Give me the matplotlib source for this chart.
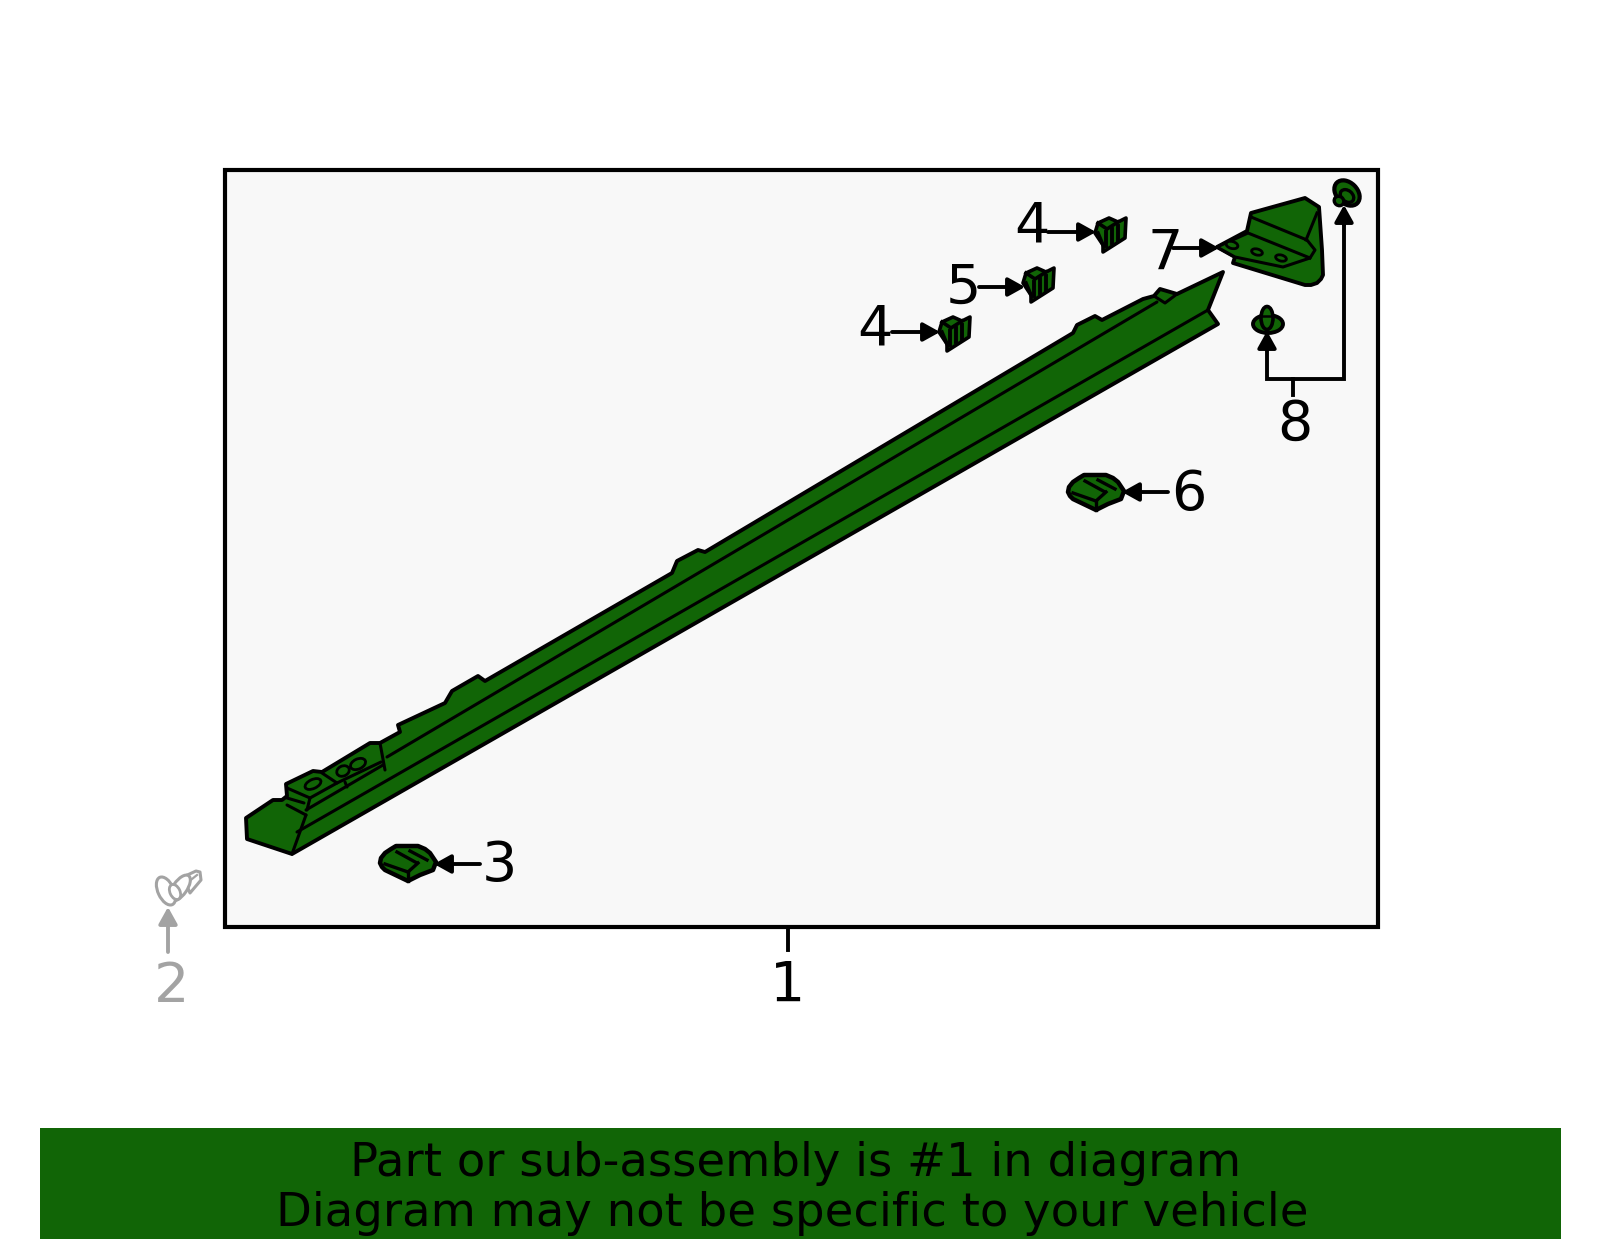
import matplotlib
matplotlib.use("Agg")
import matplotlib.pyplot as plt
from matplotlib.patches import Polygon, Ellipse, Rectangle, FancyArrowPatch

GREEN = "#116506"
PANEL = "#f8f8f8"
GREY = "#a3a3a3"

# labels: text, x, y (pixels of the picture)
label_text = ["1", "3", "4", "4", "5", "6", "7", "8"]
label_x = [788, 499, 875, 1032, 963, 1189, 1165, 1295]
label_y = [986, 866, 329, 226, 289, 495, 254, 425]

# arrows: x0, y0, x1, y1
arrow_x0 = [480, 892, 1048, 979, 1168, 1173]
arrow_y0 = [864, 332, 232, 287, 492, 248]
arrow_x1 = [434, 940, 1096, 1025, 1122, 1219]
arrow_y1 = [864, 332, 232, 287, 492, 248]

banner_lines = ["Part or sub-assembly is #1 in diagram",
                "Diagram may not be specific to your vehicle"]

sill_x = [292, 247, 246, 273, 282, 287, 286, 313, 322, 370, 380, 400, 398, 445, 452, 478, 485,
          672, 677, 698, 705, 1073, 1077, 1095, 1102, 1143, 1154, 1160, 1177, 1223, 1208, 1218]
sill_y = [854, 839, 818, 800, 800, 796, 784, 771, 772, 743, 743, 732, 725, 703, 691, 676, 681,
          573, 561, 550, 552, 333, 325, 316, 320, 299, 296, 289, 294, 272, 310, 324]
sill_lines = [
    ([306, 292], [815, 854]),
    ([306, 287], [815, 805]),
    ([387, 1157], [757, 302]),
    ([297, 1208], [832, 310]),
    ([306, 383], [810, 765]),
    ([380, 385], [743, 770]),
    ([287, 310, 307], [788, 798, 810]),
    ([310, 337, 322], [798, 783, 773]),
    ([337, 381], [783, 762]),
    ([345, 347], [782, 787]),
    ([287, 304], [798, 803]),
    ([1154, 1165, 1177], [296, 303, 294]),
]
sill_holes = [(313, 784, 17, 9), (343, 771, 13, 10), (358, 764, 16, 10)]

# bracket 7
bracket_x = [1217, 1247, 1251, 1305, 1319, 1322, 1323, 1321, 1317, 1311, 1305, 1233, 1235]
bracket_y = [247, 231, 213, 198, 207, 250, 275, 279, 283, 285, 285, 263, 257]
flange_x = [1217, 1248, 1310, 1283, 1235]
flange_y = [247, 233, 258, 267, 257]
bracket_lines = [
    ([1251, 1307, 1315, 1310], [217, 240, 250, 258]),
    ([1317, 1306], [213, 240]),
]
bracket_holes = [(1232, 245, 12, 7), (1257, 252, 11, 6), (1281, 258, 11, 6)]

# clips 4, 4, 5 share a shape, clips 3 and 6 share a shape
clip_x = [939, 942, 953, 962, 970, 969, 947, 947]
clip_y = [332, 322, 317, 321, 317, 337, 351, 344]
clip_shift_x = [0, 156, 84]
clip_shift_y = [0, -99, -49]
clip_bars_x = [950, 956, 962]

wedge_x = [380, 381, 385, 391, 396, 418, 425, 430, 436, 433, 420, 408, 385, 382]
wedge_y = [863, 858, 853, 849, 846, 846, 849, 853, 862, 870, 875, 881, 870, 867]
wedge_shift_x = [0, 688]
wedge_shift_y = [0, -371]
wedge_lines = [
    ([397, 417], [852, 863]),
    ([410, 427], [851, 860]),
    ([385, 408], [864, 872]),
    ([408, 408], [872, 881]),
    ([408, 418], [872, 863]),
]

LW = 2.8
THIN = 2.2

fig = plt.figure(figsize=(16, 12.49), dpi=100)
ax = fig.add_axes([0, 0, 1, 1])
ax.set_xlim(0, 1600)
ax.set_ylim(1249, 0)
ax.axis("off")

ax.add_patch(Rectangle((225, 170), 1153, 757, fc=PANEL, ec="black", lw=3.0, zorder=1))
ax.plot([788, 788], [927, 950], color="black", lw=LW, zorder=1)


def shape(xs, ys, lw=LW, fc=GREEN, ec="black"):
    ax.add_patch(Polygon(list(zip(xs, ys)), closed=True, fc=fc, ec=ec, lw=lw, joinstyle="round", zorder=3))


def hole(x, y, w, h, angle=-25, fc=GREEN, ec="black", lw=2.0):
    ax.add_patch(Ellipse((x, y), w, h, angle=angle, fc=fc, ec=ec, lw=lw, zorder=4))


def arrow(x0, y0, x1, y1, color="black"):
    ax.add_patch(FancyArrowPatch((x0, y0), (x1, y1), arrowstyle="-|>,head_length=0.36,head_width=0.2",
                                 mutation_scale=28, lw=LW, color=color, shrinkA=0, shrinkB=0, zorder=5))


# sill
shape(sill_x, sill_y)
for xs, ys in sill_lines:
    ax.plot(xs, ys, color="black", lw=THIN, zorder=4, solid_capstyle="round")
for x, y, w, h in sill_holes:
    hole(x, y, w, h)

# bracket 7
shape(bracket_x, bracket_y)
shape(flange_x, flange_y, lw=THIN)
for xs, ys in bracket_lines:
    ax.plot(xs, ys, color="black", lw=THIN, zorder=4)
for x, y, w, h in bracket_holes:
    hole(x, y, w, h, angle=15)

# small clips
for dx, dy in zip(clip_shift_x, clip_shift_y):
    shape([x + dx for x in clip_x], [y + dy for y in clip_y], lw=2.6)
    ax.plot([942 + dx, 951 + dx, 962 + dx], [322 + dy, 328 + dy, 321 + dy], color="black", lw=2.6, zorder=4)
    ax.plot([942 + dx, 947 + dx], [332 + dy, 344 + dy], color="black", lw=2.6, zorder=4)
    for bx in clip_bars_x:
        ax.plot([bx + dx, bx + dx], [331 + dy - (bx - 949) * 0.5, 345 + dy - (bx - 949) * 0.5],
                color="black", lw=2.8, zorder=4)

# wedge clips
for dx, dy in zip(wedge_shift_x, wedge_shift_y):
    shape([x + dx for x in wedge_x], [y + dy for y in wedge_y], lw=3.2)
    for xs, ys in wedge_lines:
        ax.plot([x + dx for x in xs], [y + dy for y in ys], color="black", lw=2.4, zorder=4)

# studs 8
hole(1268, 324, 30, 18, angle=0, lw=2.8)
hole(1267, 318, 12, 23, angle=0, lw=2.6)
ax.plot([1262, 1272], [316, 316], color="black", lw=1.8, zorder=5)
hole(1347, 193, 29, 21, angle=45, lw=3.0)
hole(1347, 196, 15, 11, angle=40, lw=2.4)
hole(1339, 201, 10, 9, angle=40, lw=2.4)

# leader 8
ax.plot([1267, 1267, 1344, 1344], [340, 379, 379, 215], color="black", lw=LW, zorder=5, solid_joinstyle="miter")
ax.plot([1293, 1293], [379, 395], color="black", lw=LW, zorder=5)
arrow(1267, 350, 1267, 331)
arrow(1344, 225, 1344, 205)

# arrows and labels
for x0, y0, x1, y1 in zip(arrow_x0, arrow_y0, arrow_x1, arrow_y1):
    arrow(x0, y0, x1, y1)
for t, x, y in zip(label_text, label_x, label_y):
    ax.text(x, y, t, fontsize=40, ha="center", va="center", color="black", zorder=6)

# grey part 2, not in this assembly
ax.add_patch(Polygon([(183, 877), (196, 871), (200, 872), (201, 880), (190, 893)], fc="white", ec=GREY, lw=2.2,
                     joinstyle="round", zorder=3))
ax.plot([187, 197], [883, 875], color=GREY, lw=1.6, zorder=3)
hole(180, 888, 14, 30, angle=35, fc="white", ec=GREY, lw=2.2)
hole(166, 891, 16, 30, angle=-25, fc="white", ec=GREY, lw=2.2)
hole(175, 892, 10, 16, angle=-25, fc="white", ec=GREY, lw=2.0)
arrow(168, 952, 168, 907, color=GREY)
ax.text(172, 987, "2", fontsize=40, ha="center", va="center", color=GREY, zorder=6)

# banner
ax.add_patch(Rectangle((40, 1128), 1521, 111, fc=GREEN, ec="none", zorder=1))
ax.text(796, 1163, banner_lines[0], fontsize=33.5, ha="center", va="center", color="black", zorder=2)
ax.text(792, 1213, banner_lines[1], fontsize=33.5, ha="center", va="center", color="black", zorder=2)

fig.savefig("out.png", dpi=100, facecolor="white")
